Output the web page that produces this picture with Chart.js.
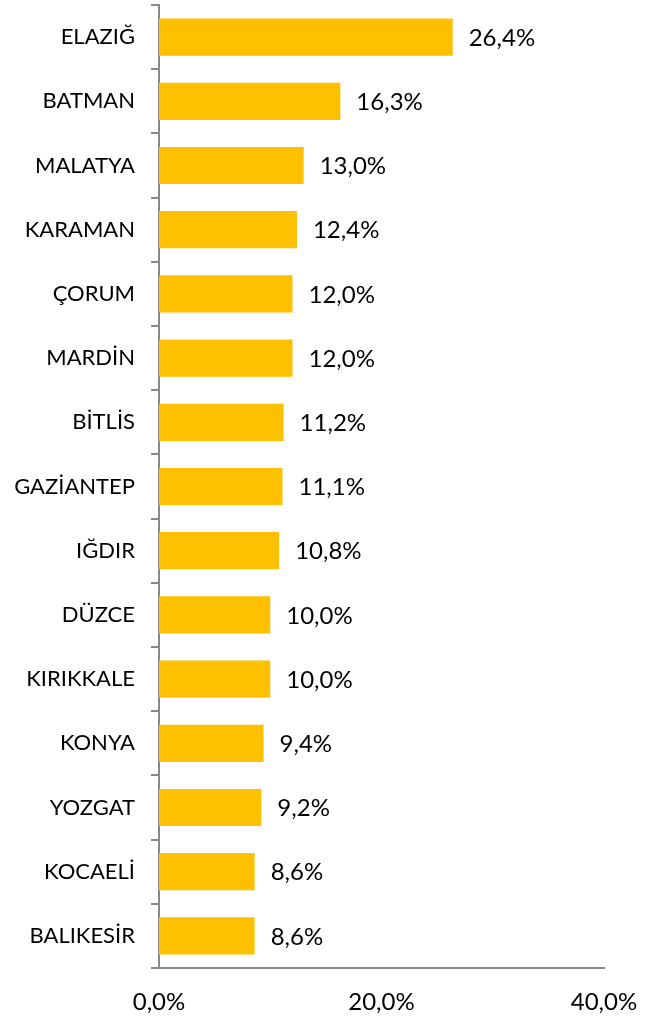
<!DOCTYPE html>
<html>
<head>
<meta charset="utf-8">
<script src="https://cdn.jsdelivr.net/npm/chart.js@4.4.1/dist/chart.umd.min.js"></script>
<style>
html,body{margin:0;padding:0;background:#fff;}
canvas{display:block;}
</style>
</head>
<body>
<canvas id="c" width="654" height="1020"></canvas>
<script>
const categories = ["ELAZIĞ","BATMAN","MALATYA","KARAMAN","ÇORUM","MARDİN","BİTLİS","GAZİANTEP","IĞDIR","DÜZCE","KIRIKKALE","KONYA","YOZGAT","KOCAELİ","BALIKESİR"];
const values = [26.4,16.3,13.0,12.4,12.0,12.0,11.2,11.1,10.8,10.0,10.0,9.4,9.2,8.6,8.6];
const xTickValues = [0,20,40];

const fmt = v => v.toFixed(1).replace('.', ',') + '%';
const FONT = "Lato, 'Open Sans', sans-serif";

const labelPlugin = {
  id: 'barLabels',
  afterDatasetsDraw(chart) {
    const ctx = chart.ctx;
    const meta = chart.getDatasetMeta(0);
    ctx.save();
    ctx.font = "24px " + FONT;
    ctx.fillStyle = "#000";
    ctx.textAlign = "left";
    ctx.textBaseline = "middle";
    meta.data.forEach((bar, i) => {
      ctx.fillText(fmt(values[i]), bar.x + 16, bar.y + 1);
    });
    ctx.restore();
  }
};

new Chart(document.getElementById('c'), {
  type: 'bar',
  data: {
    labels: categories,
    datasets: [{
      data: values,
      backgroundColor: '#FFC000',
      borderWidth: 0,
      barPercentage: 0.58,
      categoryPercentage: 1.0
    }]
  },
  options: {
    indexAxis: 'y',
    responsive: false,
    animation: false,
    devicePixelRatio: 1,
    layout: { padding: { top: 5, right: 50, left: 0, bottom: 0 } },
    plugins: { legend: { display: false }, tooltip: { enabled: false } },
    scales: {
      x: {
        min: 0, max: 40,
        afterBuildTicks(axis) { axis.ticks = xTickValues.map(v => ({ value: v })); },
        afterFit(axis) { axis.height = 52; axis.paddingLeft = 0; axis.paddingRight = 0; },
        grid: { display: false },
        border: { display: true, color: '#898989', width: 2 },
        ticks: {
          font: { size: 24, family: FONT },
          color: '#000',
          padding: 12,
          maxRotation: 0,
          autoSkip: false,
          callback: v => fmt(v)
        }
      },
      y: {
        afterFit(axis) { axis.width = 159; axis.paddingTop = 0; axis.paddingBottom = 0; },
        grid: {
          display: true,
          drawOnChartArea: false,
          drawTicks: true,
          tickLength: 8,
          offset: true,
          color: '#898989',
          lineWidth: 2
        },
        border: { display: true, color: '#898989', width: 2 },
        ticks: {
          font: { size: 22, family: FONT },
          color: '#000',
          padding: 16,
          autoSkip: false
        }
      }
    }
  },
  plugins: [labelPlugin]
});
</script>
</body>
</html>
